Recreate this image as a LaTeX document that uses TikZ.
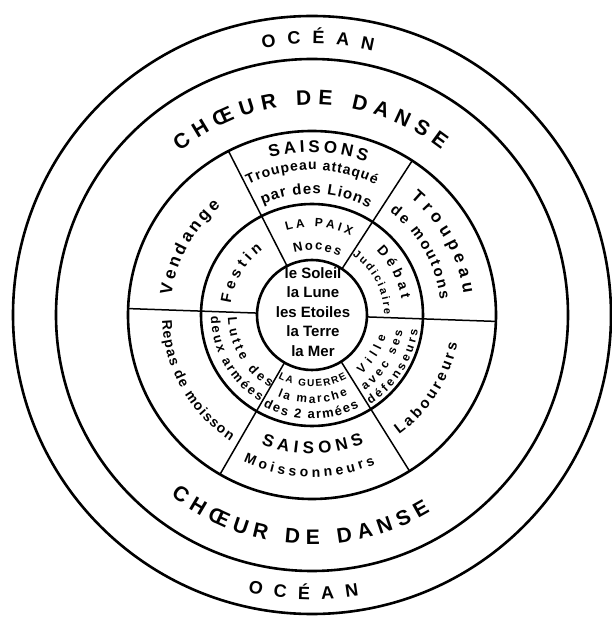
\documentclass[tikz,border=0pt]{standalone}
\usepackage{fontspec}
\setmainfont{Liberation Sans}
\usetikzlibrary{decorations.text}

\newcommand{\lblfont}[1]{\fontsize{#1}{#1}\selectfont\bfseries}

\begin{document}
\begin{tikzpicture}[x=1pt, y=1pt,
  ring/.style={line width=2.6pt},
  divider/.style={line width=1.5pt},
  arclabel/.style={decorate, decoration={text along path, text align=fit to path, text={#1}}}]
  \useasboundingbox (-312,-302) rectangle (299,315);

  % Circles
  \draw[ring] (0,0) circle (299);
  \draw[ring] (0,0) circle (256);
  \draw[ring] (0,0) circle (184);
  \draw[ring] (0,0) circle (111);
  \draw[ring] (0,0) circle (55);

  % Dividers between the six fields
  \draw[divider] (57:55) -- (57:184);
  \draw[divider] (117:55) -- (117:184);
  \draw[divider] (178:55) -- (178:184);
  \draw[divider] (240:55) -- (240:184);
  \draw[divider] (302:55) -- (302:184);
  \draw[divider] (358:55) -- (358:184);

  % Ocean
  \path[arclabel={|\lblfont{18}|OCÉAN}] (100.5:271) arc[start angle=100.5, end angle=77, radius=271];
  \path[arclabel={|\lblfont{18}|OCÉAN}] (257:284.5) arc[start angle=257, end angle=279.5, radius=284.5];

  % Dance ring
  \path[arclabel={|\lblfont{21}|CHŒUR DE DANSE}] (129:210) arc[start angle=129, end angle=52, radius=210];
  \path[arclabel={|\lblfont{21}|CHŒUR DE DANSE}] (232:229.5) arc[start angle=232, end angle=301, radius=229.5];

  % Outer fields
  \path[arclabel={|\lblfont{17}|SAISONS}] (105:162.5) arc[start angle=105, end angle=70.5, radius=162.5];
  \path[arclabel={|\lblfont{14}|Troupeau attaqué}] (116:145) arc[start angle=116, end angle=64, radius=145];
  \path[arclabel={|\lblfont{15}|par des Lions}] (114:121) arc[start angle=114, end angle=62, radius=121];
  \path[arclabel={|\lblfont{17}|Troupeau}] (50:153) arc[start angle=50, end angle=8, radius=153];
  \path[arclabel={|\lblfont{15}|de moutons}] (53:129) arc[start angle=53, end angle=7, radius=129];
  \path[arclabel={|\lblfont{17}|Vendange}] (172:142) arc[start angle=172, end angle=130, radius=142];
  \path[arclabel={|\lblfont{14}|Repas de moisson}] (182:150) arc[start angle=182, end angle=237, radius=150];
  \path[arclabel={|\lblfont{15}|Laboureurs}] (-54:148) arc[start angle=-54, end angle=-11, radius=148];
  \path[arclabel={|\lblfont{17}|SAISONS}] (248.5:139) arc[start angle=248.5, end angle=292, radius=139];
  \path[arclabel={|\lblfont{14}|Moissonneurs}] (245:162) arc[start angle=245, end angle=293, radius=162];

  % Middle fields
  \path[arclabel={|\lblfont{12}|LA PAIX}] (107:88) arc[start angle=107, end angle=64, radius=88];
  \path[arclabel={|\lblfont{13}|Noces}] (106:65) arc[start angle=106, end angle=65, radius=65];
  \path[arclabel={|\lblfont{14}|Débat}] (45:91) arc[start angle=45, end angle=10, radius=91];
  \path[arclabel={|\lblfont{11}|Judiciaire}] (56:72) arc[start angle=56, end angle=0, radius=72];
  \path[arclabel={|\lblfont{15}|Festin}] (172:82) arc[start angle=172, end angle=127, radius=82];
  \path[arclabel={|\lblfont{13}|Lutte des}] (182:84) arc[start angle=182, end angle=240, radius=84];
  \path[arclabel={|\lblfont{13}|deux armées}] (181:101) arc[start angle=181, end angle=239, radius=101];
  \path[arclabel={|\lblfont{10}|LA GUERRE}] (242:72) arc[start angle=242, end angle=299, radius=72];
  \path[arclabel={|\lblfont{12}|la marche}] (247:88) arc[start angle=247, end angle=294, radius=88];
  \path[arclabel={|\lblfont{13}|des 2 armées}] (242:104) arc[start angle=242, end angle=297, radius=104];
  \path[arclabel={|\lblfont{12}|Ville}] (-50:77) arc[start angle=-50, end angle=-16, radius=77];
  \path[arclabel={|\lblfont{12}|avec ses}] (-55:92) arc[start angle=-55, end angle=-10, radius=92];
  \path[arclabel={|\lblfont{12}|défenseurs}] (-57:107) arc[start angle=-57, end angle=-8, radius=107];

  % Centre
  \node[font={\fontsize{15}{19.5}\selectfont\bfseries}, align=center, inner sep=0pt] (cosmos) at (1,3)
    {le Soleil\\la Lune\\les Etoiles\\la Terre\\la Mer};
\end{tikzpicture}
\end{document}
